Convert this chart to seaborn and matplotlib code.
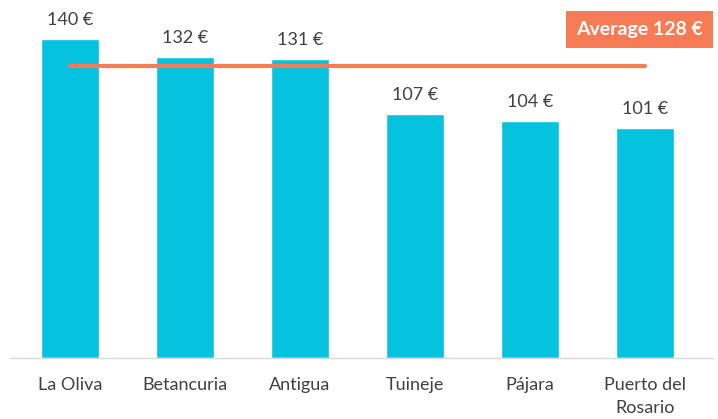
import matplotlib
matplotlib.use("Agg")
import matplotlib.pyplot as plt
import seaborn as sns
import pandas as pd

categories = ["La Oliva", "Betancuria", "Antigua", "Tuineje", "Pájara", "Puerto del\nRosario"]
values = [140, 132, 131, 107, 104, 101]
average = 128
bar_labels = ["140 €", "132 €", "131 €", "107 €", "104 €", "101 €"]
avg_label = "Average 128 €"

sns.set_theme(style="white")
plt.rcParams['font.family'] = ['Lato', 'DejaVu Sans']

df = pd.DataFrame({"cat": categories, "val": values})

fig = plt.figure(figsize=(7.18, 4.19), dpi=100)
ax = fig.add_axes([10/718, 1 - 358/419, 702/718, 358/419])
sns.barplot(data=df, x="cat", y="val", color="#05C3DE", width=0.5, saturation=1, ax=ax)

ax.set_ylim(0, 157)
ax.set_xlim(-0.52, 5.58)
for s in ["top", "right", "left"]:
    ax.spines[s].set_visible(False)
ax.spines["bottom"].set_color("#D9D9D9")
ax.spines["bottom"].set_linewidth(1)
ax.set_yticks([])
ax.set_xlabel("")
ax.set_ylabel("")
ax.tick_params(axis="x", length=0, pad=14, labelsize=13, labelcolor="#404040")
for t in ax.get_xticklabels():
    t.set_linespacing(1.5)

for i, (v, lab) in enumerate(zip(values, bar_labels)):
    ax.annotate(lab, (i, v), xytext=(0, 8), textcoords="offset points",
                ha="center", va="bottom", fontsize=13, color="#404040")

ax.plot([0, len(values) - 1], [average, average], color="#F77B55", linewidth=3,
        solid_capstyle="round")

fig.text(639.5/718, 1 - 29.5/419, avg_label, ha="center", va="center", fontsize=14,
         fontweight="bold", color="white",
         bbox=dict(boxstyle="square,pad=0.5", facecolor="#F77B55", edgecolor="none"))

fig.savefig("out.png", dpi=100)
